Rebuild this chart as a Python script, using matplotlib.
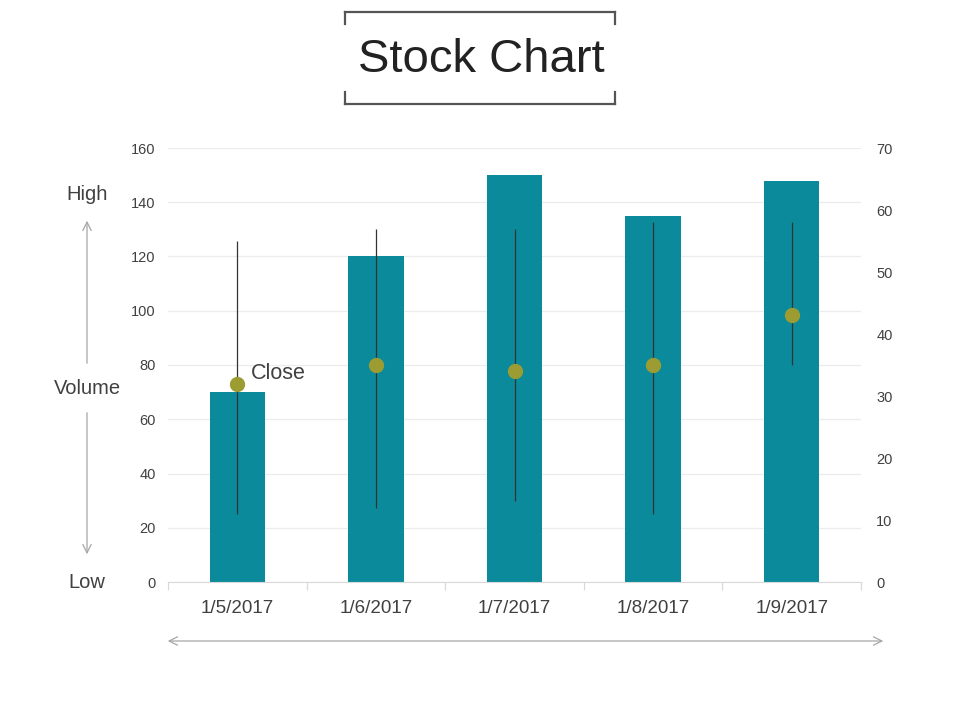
import matplotlib
matplotlib.use("Agg")
import matplotlib.pyplot as plt
from matplotlib.patches import FancyArrowPatch
from matplotlib.lines import Line2D

plt.rcParams['font.family'] = ['Liberation Sans', 'DejaVu Sans']

dates = ["1/5/2017", "1/6/2017", "1/7/2017", "1/8/2017", "1/9/2017"]
volume = [70, 120, 150, 135, 148]
high = [55, 57, 57, 58, 58]
low = [11, 12, 13, 11, 35]
close = [32, 35, 34, 35, 43]
left_ticks = [0, 20, 40, 60, 80, 100, 120, 140, 160]
right_ticks = [0, 10, 20, 30, 40, 50, 60, 70]

W, H = 960, 720
fig = plt.figure(figsize=(9.6, 7.2), dpi=100)

def fx(px):
    return px / W

def fy(py):
    return 1 - py / H

ax = fig.add_axes([fx(168), fy(582), fx(861) - fx(168), fy(148) - fy(582)])
x = list(range(len(dates)))
ax.bar(x, volume, width=0.4, color="#0a8a9b", zorder=2)
ax.set_xlim(-0.5, len(dates) - 0.5)
ax.set_ylim(0, 160)
ax.set_yticks(left_ticks)
ax.grid(axis='y', color="#ececec", linewidth=0.9, zorder=0)
ax.set_axisbelow(True)
for s in ['top', 'right', 'left']:
    ax.spines[s].set_visible(False)
ax.spines['bottom'].set_color("#d9d9d9")
ax.set_xticks(x)
ax.set_xticklabels(dates)
ax.set_xticks([i - 0.5 for i in range(len(dates) + 1)], minor=True)
ax.tick_params(axis='x', which='major', length=0, pad=13, labelsize=13.5, labelcolor="#404040")
ax.tick_params(axis='x', which='minor', length=6, color="#d9d9d9", width=0.9)
ax.tick_params(axis='y', length=0, pad=9, labelsize=10.5, labelcolor="#404040")

ax2 = ax.twinx()
ax2.set_ylim(0, 70)
ax2.set_yticks(right_ticks)
ax2.vlines(x, low, high, color="#333333", linewidth=0.9, zorder=3)
ax2.plot(x, close, linestyle='none', marker='o', markersize=10, color="#9c9c33", zorder=4)
for s in ['top', 'right', 'left', 'bottom']:
    ax2.spines[s].set_visible(False)
ax2.tick_params(axis='y', length=0, pad=11, labelsize=10.5, labelcolor="#404040")
ax2.annotate("Close", xy=(x[0], close[0]), xytext=(10, 0), textcoords='offset points',
             fontsize=15.5, color="#404040", va='bottom', ha='left')

# Title with bracket frame
fig.text(fx(481), fy(60), "Stock Chart", fontsize=34, color="#222222", ha='center', va='center')
br = "#555555"
lw = 1.6
fig.add_artist(Line2D([fx(345), fx(615)], [fy(12), fy(12)], color=br, lw=lw))
fig.add_artist(Line2D([fx(345), fx(345)], [fy(12), fy(24)], color=br, lw=lw))
fig.add_artist(Line2D([fx(615), fx(615)], [fy(12), fy(24)], color=br, lw=lw))
fig.add_artist(Line2D([fx(345), fx(615)], [fy(104), fy(104)], color=br, lw=lw))
fig.add_artist(Line2D([fx(345), fx(345)], [fy(92), fy(104)], color=br, lw=lw))
fig.add_artist(Line2D([fx(615), fx(615)], [fy(92), fy(104)], color=br, lw=lw))

# Left annotations
lab = "#404040"
fig.text(fx(87), fy(195), "High", fontsize=14.5, color=lab, ha='center', va='center')
fig.text(fx(87), fy(389), "Volume", fontsize=14.5, color=lab, ha='center', va='center')
fig.text(fx(87), fy(582), "Low", fontsize=14.5, color=lab, ha='center', va='center')
acol = "#a6a6a6"
fig.add_artist(FancyArrowPatch((fx(87), fy(366)), (fx(87), fy(218)), transform=fig.transFigure,
                               arrowstyle='->,head_length=6,head_width=3', color=acol, lw=0.9))
fig.add_artist(FancyArrowPatch((fx(87), fy(410)), (fx(87), fy(557)), transform=fig.transFigure,
                               arrowstyle='->,head_length=6,head_width=3', color=acol, lw=0.9))
fig.add_artist(FancyArrowPatch((fx(165), fy(641)), (fx(886), fy(641)), transform=fig.transFigure,
                               arrowstyle='<->,head_length=6,head_width=3', color=acol, lw=0.9))

fig.savefig("out.png", dpi=100, facecolor='white')
